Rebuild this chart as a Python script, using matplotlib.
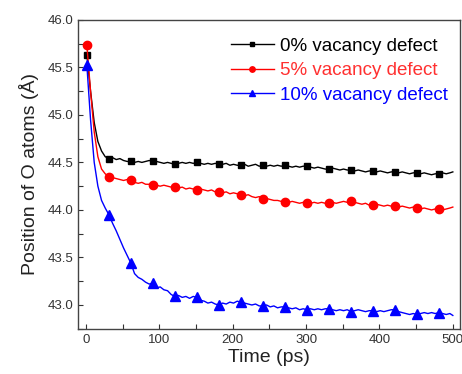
import matplotlib
matplotlib.use("Agg")
import matplotlib.pyplot as plt
from matplotlib.ticker import MultipleLocator

plt.rcParams["font.family"] = ["Liberation Sans", "DejaVu Sans"]

time_ps = [1, 6, 11, 16, 21, 26, 31, 36, 41, 46, 51, 56, 61, 66, 71, 76, 81, 86, 91, 96,
           101, 106, 111, 116, 121, 126, 131, 136, 141, 146, 151, 156, 161, 166, 171, 176, 181, 186, 191, 196,
           201, 206, 211, 216, 221, 226, 231, 236, 241, 246, 251, 256, 261, 266, 271, 276, 281, 286, 291, 296,
           301, 306, 311, 316, 321, 326, 331, 336, 341, 346, 351, 356, 361, 366, 371, 376, 381, 386, 391, 396,
           401, 406, 411, 416, 421, 426, 431, 436, 441, 446, 451, 456, 461, 466, 471, 476, 481, 486, 491, 496,
           500]

defect_0 = [45.63, 45.25, 44.92, 44.72, 44.62, 44.56, 44.54, 44.55, 44.53, 44.54,
            44.52, 44.51, 44.51, 44.50, 44.51, 44.50, 44.51, 44.52, 44.51, 44.51,
            44.50, 44.49, 44.50, 44.49, 44.48, 44.49, 44.50, 44.49, 44.50, 44.49,
            44.50, 44.49, 44.48, 44.49, 44.48, 44.49, 44.48, 44.48, 44.49, 44.47,
            44.48, 44.47, 44.47, 44.48, 44.46, 44.47, 44.48, 44.46, 44.47, 44.46,
            44.47, 44.46, 44.47, 44.46, 44.47, 44.46, 44.45, 44.46, 44.45, 44.46,
            44.46, 44.45, 44.44, 44.45, 44.44, 44.43, 44.43, 44.44, 44.43, 44.42,
            44.43, 44.42, 44.42, 44.41, 44.42, 44.41, 44.40, 44.41, 44.41, 44.40,
            44.41, 44.40, 44.39, 44.40, 44.40, 44.39, 44.40, 44.39, 44.38, 44.39,
            44.39, 44.38, 44.39, 44.38, 44.37, 44.38, 44.38, 44.39, 44.38, 44.39,
            44.40]

defect_5 = [45.73, 45.25, 44.82, 44.56, 44.43, 44.38, 44.35, 44.34, 44.33, 44.32,
            44.31, 44.32, 44.31, 44.29, 44.28, 44.29, 44.27, 44.27, 44.26, 44.26,
            44.25, 44.26, 44.25, 44.24, 44.24, 44.23, 44.24, 44.22, 44.23, 44.22,
            44.21, 44.22, 44.21, 44.20, 44.21, 44.19, 44.19, 44.18, 44.19, 44.17,
            44.18, 44.17, 44.16, 44.15, 44.16, 44.14, 44.13, 44.14, 44.12, 44.12,
            44.11, 44.10, 44.10, 44.09, 44.08, 44.08, 44.09, 44.08, 44.07, 44.08,
            44.07, 44.07, 44.08, 44.07, 44.08, 44.07, 44.07, 44.08, 44.07, 44.08,
            44.09, 44.08, 44.09, 44.08, 44.07, 44.06, 44.07, 44.05, 44.05, 44.06,
            44.05, 44.04, 44.05, 44.04, 44.04, 44.03, 44.04, 44.03, 44.02, 44.03,
            44.02, 44.01, 44.02, 44.01, 44.00, 44.01, 44.01, 44.00, 44.01, 44.02,
            44.03]

defect_10 = [45.52, 44.95, 44.50, 44.25, 44.10, 44.02, 43.95, 43.86, 43.78, 43.69,
             43.60, 43.52, 43.44, 43.33, 43.29, 43.27, 43.24, 43.22, 43.23, 43.18,
             43.19, 43.16, 43.15, 43.11, 43.09, 43.10, 43.08, 43.09, 43.07, 43.09,
             43.08, 43.05, 43.04, 43.02, 43.03, 43.01, 43.00, 43.02, 43.01, 43.03,
             43.02, 43.04, 43.03, 43.02, 43.01, 43.00, 43.01, 42.99, 42.99, 43.00,
             42.98, 42.99, 42.97, 42.98, 42.98, 42.97, 42.96, 42.97, 42.95, 42.96,
             42.95, 42.96, 42.95, 42.96, 42.95, 42.96, 42.96, 42.95, 42.94, 42.95,
             42.94, 42.95, 42.93, 42.94, 42.95, 42.94, 42.93, 42.94, 42.94, 42.93,
             42.94, 42.93, 42.94, 42.95, 42.95, 42.93, 42.92, 42.91, 42.90, 42.91,
             42.90, 42.91, 42.92, 42.91, 42.92, 42.91, 42.92, 42.91, 42.90, 42.91,
             42.89]

labels = ["0% vacancy defect", "5% vacancy defect", "10% vacancy defect"]
colors = ["black", "#ff0000", "#0000ff"]
text_colors = ["black", "#ff3030", "#0000ff"]

fig = plt.figure(figsize=(4.62, 3.74), dpi=100)
ax = fig.add_axes([0.169, 0.121, 0.827, 0.826])

ax.plot(time_ps, defect_0, color=colors[0], lw=1.0, marker="s", ms=5,
        markevery=6, label=labels[0])
ax.plot(time_ps, defect_5, color=colors[1], lw=1.0, marker="o", ms=6,
        markevery=6, label=labels[1])
ax.plot(time_ps, defect_10, color=colors[2], lw=1.0, marker="^", ms=6.5,
        markevery=6, label=labels[2])

ax.set_xlim(-11, 510)
ax.set_ylim(42.75, 46.0)
ax.xaxis.set_major_locator(MultipleLocator(100))
ax.xaxis.set_minor_locator(MultipleLocator(50))
ax.yaxis.set_major_locator(MultipleLocator(0.5))
ax.yaxis.set_minor_locator(MultipleLocator(0.25))
ax.yaxis.set_major_formatter(plt.FormatStrFormatter("%.1f"))
ax.tick_params(which="both", direction="in", length=3.6, width=0.8,
               colors="#333333", labelsize=9.5, top=False, right=False)
ax.tick_params(axis="y", pad=3.5)
ax.tick_params(axis="x", pad=4)
for s in ax.spines.values():
    s.set_color("#444444")
    s.set_linewidth(1.0)

ax.set_xlabel("Time (ps)", fontsize=14, color="#222222", labelpad=2)
ax.set_ylabel("Position of O atoms (Å)", fontsize=14, color="#222222", labelpad=6)

leg = ax.legend(loc="upper left", bbox_to_anchor=(0.40, 0.943), frameon=False,
                fontsize=13.5, handlelength=2.3, handletextpad=0.3,
                labelspacing=0.4, borderpad=0, borderaxespad=0, markerscale=0.65)
for t, c in zip(leg.get_texts(), text_colors):
    t.set_color(c)

fig.savefig("out.png", dpi=100)
